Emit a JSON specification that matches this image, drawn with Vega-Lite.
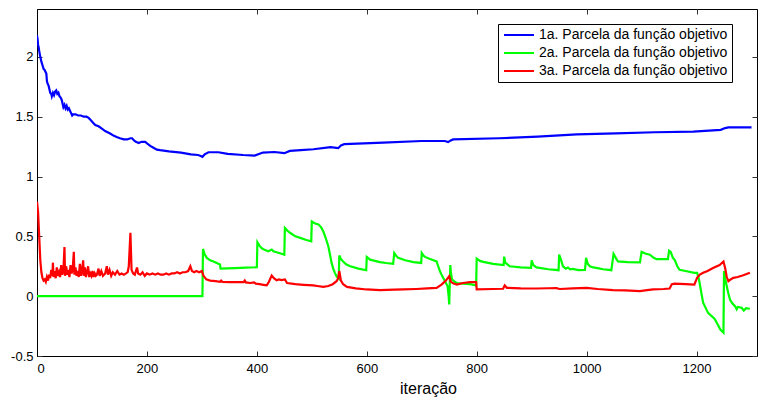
{
  "$schema": "https://vega.github.io/schema/vega-lite/v6.json",
  "autosize": {"type": "none"},
  "padding": {"left": 37, "top": 9, "right": 4, "bottom": 43},
  "width": 720,
  "height": 347,
  "background": "white",
  "config": {
    "view": {"stroke": "black", "strokeWidth": 1},
    "font": "Liberation Sans",
    "axis": {"labelFont": "Liberation Sans", "titleFont": "Liberation Sans", "labelColor": "black", "titleColor": "black", "domainColor": "black", "tickColor": "#333", "grid": false}
  },
  "datasets": {
    "b": [[0,2.18],[1,2.15],[2,2.10],[3,2.08],[4,2.05],[6,2.00],[8,1.96],[10,1.93],[12,1.90],[14,1.89],[16,1.87],[17,1.86],[18,1.80],[19,1.78],[21,1.76],[23,1.72],[24,1.70],[26,1.69],[27,1.67],[29,1.70],[31,1.68],[33,1.71],[35,1.72],[37,1.69],[39,1.70],[41,1.67],[43,1.66],[45,1.64],[47,1.60],[48,1.58],[50,1.60],[52,1.57],[54,1.59],[56,1.56],[58,1.57],[60,1.55],[62,1.53],[64,1.51],[66,1.52],[70,1.52],[75,1.51],[80,1.51],[85,1.50],[90,1.50],[94,1.49],[98,1.47],[102,1.45],[106,1.43],[112,1.42],[118,1.40],[124,1.38],[133,1.36],[140,1.34],[145,1.33],[151,1.32],[158,1.31],[164,1.31],[170,1.32],[173,1.32],[177,1.30],[180,1.29],[185,1.28],[190,1.29],[195,1.29],[197,1.29],[202,1.27],[206,1.256],[212,1.24],[218,1.225],[224,1.22],[240,1.21],[262,1.20],[280,1.185],[293,1.18],[298,1.172],[301,1.165],[305,1.185],[312,1.203],[330,1.203],[347,1.19],[375,1.18],[396,1.175],[405,1.19],[411,1.20],[432,1.205],[450,1.195],[460,1.214],[480,1.22],[503,1.228],[534,1.245],[548,1.237],[553,1.26],[559,1.27],[630,1.283],[700,1.297],[742,1.297],[748,1.288],[752,1.30],[757,1.31],[841,1.32],[911,1.333],[982,1.353],[1053,1.36],[1124,1.37],[1194,1.375],[1244,1.39],[1252,1.405],[1258,1.41],[1300,1.41]],
    "g": [[0,0],[301,0],[302,0.395],[305,0.35],[309,0.32],[315,0.30],[321,0.29],[333,0.264],[334,0.23],[360,0.235],[380,0.238],[400,0.242],[401,0.45],[405,0.42],[409,0.40],[415,0.385],[421,0.375],[425,0.385],[427,0.39],[430,0.375],[436,0.367],[445,0.355],[450,0.347],[451,0.57],[455,0.55],[461,0.528],[470,0.50],[479,0.487],[490,0.47],[499,0.458],[500,0.625],[505,0.61],[512,0.60],[517,0.575],[521,0.54],[525,0.49],[530,0.417],[533,0.35],[536,0.278],[539,0.23],[542,0.195],[545,0.165],[549,0.147],[550,0.34],[553,0.31],[557,0.29],[563,0.265],[570,0.25],[585,0.23],[599,0.217],[600,0.328],[606,0.305],[615,0.295],[624,0.285],[635,0.277],[648,0.27],[650,0.36],[653,0.34],[657,0.32],[670,0.30],[685,0.285],[699,0.278],[700,0.36],[703,0.34],[706,0.328],[715,0.31],[727,0.29],[730,0.25],[733,0.21],[736,0.18],[739,0.153],[743,0.12],[747,0.083],[749,0.0],[750,-0.07],[751,0.10],[752,0.26],[753,0.20],[755,0.14],[760,0.12],[764,0.11],[775,0.105],[788,0.10],[799,0.09],[800,0.314],[806,0.295],[812,0.287],[830,0.27],[849,0.26],[850,0.33],[852,0.28],[860,0.25],[880,0.24],[899,0.236],[900,0.30],[903,0.26],[909,0.24],[930,0.225],[949,0.217],[950,0.347],[953,0.31],[957,0.25],[962,0.23],[966,0.24],[970,0.225],[975,0.228],[985,0.218],[997,0.22],[999,0.32],[1002,0.27],[1006,0.25],[1012,0.24],[1020,0.235],[1030,0.225],[1045,0.217],[1049,0.353],[1053,0.32],[1057,0.29],[1075,0.285],[1097,0.283],[1100,0.37],[1108,0.355],[1115,0.347],[1122,0.32],[1127,0.31],[1148,0.31],[1150,0.38],[1153,0.37],[1157,0.32],[1160,0.305],[1165,0.25],[1169,0.22],[1180,0.21],[1196,0.195],[1201,0.195],[1204,0.15],[1206,0.10],[1209,0.02],[1212,-0.055],[1221,-0.14],[1233,-0.19],[1240,-0.25],[1243,-0.277],[1249,-0.305],[1250,0.21],[1252,0.15],[1255,0.083],[1258,0.02],[1261,-0.03],[1265,-0.06],[1270,-0.083],[1273,-0.11],[1275,-0.09],[1282,-0.097],[1286,-0.12],[1290,-0.10],[1297,-0.105]],
    "r": [[0,0.79],[2,0.70],[4,0.50],[6,0.30],[8,0.20],[10,0.15],[12,0.13],[14,0.14],[16,0.12],[18,0.16],[20,0.13],[22,0.18],[24,0.15],[26,0.22],[28,0.17],[29,0.28],[30,0.16],[32,0.21],[34,0.15],[36,0.24],[38,0.17],[40,0.20],[42,0.16],[44,0.26],[46,0.18],[48,0.21],[50,0.41],[51,0.17],[53,0.25],[55,0.18],[57,0.22],[59,0.16],[61,0.26],[63,0.19],[65,0.23],[67,0.37],[68,0.18],[70,0.24],[72,0.17],[74,0.21],[76,0.16],[78,0.27],[80,0.17],[82,0.22],[84,0.30],[85,0.17],[87,0.24],[89,0.16],[91,0.20],[93,0.25],[95,0.16],[97,0.19],[99,0.17],[101,0.21],[103,0.16],[105,0.19],[107,0.17],[109,0.18],[112,0.23],[114,0.17],[117,0.21],[120,0.17],[124,0.19],[127,0.25],[129,0.18],[132,0.22],[135,0.17],[138,0.20],[142,0.18],[146,0.21],[150,0.18],[154,0.19],[158,0.18],[162,0.19],[165,0.20],[167,0.25],[170,0.53],[172,0.22],[175,0.19],[178,0.18],[182,0.24],[184,0.19],[188,0.18],[192,0.20],[196,0.17],[200,0.19],[205,0.18],[210,0.19],[215,0.18],[220,0.19],[225,0.18],[230,0.18],[235,0.19],[240,0.18],[245,0.19],[250,0.19],[255,0.20],[260,0.19],[265,0.20],[270,0.20],[275,0.21],[279,0.25],[282,0.21],[286,0.20],[290,0.21],[295,0.20],[300,0.21],[303,0.17],[308,0.14],[315,0.13],[325,0.125],[333,0.12],[335,0.13],[337,0.12],[350,0.118],[365,0.118],[376,0.117],[378,0.13],[380,0.115],[388,0.11],[395,0.115],[398,0.105],[405,0.10],[412,0.095],[418,0.09],[422,0.12],[427,0.172],[431,0.15],[436,0.133],[440,0.14],[445,0.135],[451,0.14],[455,0.11],[470,0.10],[485,0.095],[503,0.09],[510,0.085],[521,0.078],[530,0.085],[538,0.10],[545,0.125],[548,0.15],[550,0.21],[553,0.13],[557,0.10],[564,0.078],[580,0.065],[600,0.056],[624,0.05],[650,0.054],[667,0.056],[690,0.06],[710,0.065],[727,0.07],[736,0.097],[744,0.13],[750,0.167],[753,0.12],[758,0.105],[764,0.097],[775,0.11],[788,0.117],[799,0.117],[800,0.056],[830,0.06],[848,0.062],[851,0.09],[855,0.07],[880,0.065],[909,0.064],[930,0.066],[945,0.067],[951,0.06],[975,0.065],[1000,0.07],[1020,0.06],[1048,0.05],[1070,0.048],[1097,0.042],[1110,0.05],[1121,0.056],[1140,0.06],[1151,0.064],[1155,0.10],[1160,0.105],[1180,0.10],[1196,0.097],[1201,0.153],[1206,0.18],[1212,0.195],[1220,0.21],[1230,0.236],[1242,0.26],[1249,0.29],[1252,0.236],[1255,0.16],[1258,0.125],[1262,0.14],[1267,0.153],[1275,0.16],[1285,0.175],[1297,0.195]]
  },
  "resolve": {"axis": {"x": "independent", "y": "independent"}},
  "layer": [
    {
      "data": {"name": "b"},
      "transform": [
        {"calculate": "'1a. Parcela da função objetivo'", "as": "serie"},
        {"calculate": "datum[0]", "as": "iter"},
        {"calculate": "datum[1]", "as": "val"}
      ],
      "mark": {"type": "line", "strokeWidth": 2.2, "clip": true},
      "encoding": {
        "x": {"field": "iter", "type": "quantitative", "scale": {"domain": [0, 1310], "nice": false, "zero": false},
          "axis": {"values": [0,200,400,600,800,1000,1200], "tickSize": -5, "labelPadding": 11, "labelFontSize": 13, "labelExpr": "'' + datum.value", "title": "iteração", "titleFontSize": 16, "titleFontWeight": "normal", "titleX": 391, "titleY": 37, "titleBaseline": "alphabetic", "titleAnchor": null, "titleAlign": "center"}},
        "y": {"field": "val", "type": "quantitative", "scale": {"domain": [-0.5, 2.4], "nice": false, "zero": false},
          "axis": {"values": [-0.5,0,0.5,1,1.5,2], "tickSize": -5, "labelPadding": 9, "labelFontSize": 13, "labelExpr": "'' + datum.value", "title": null}},
        "color": {"field": "serie", "type": "nominal",
          "scale": {"domain": ["1a. Parcela da função objetivo", "2a. Parcela da função objetivo", "3a. Parcela da função objetivo"], "range": ["#0000ff", "#00ff00", "#ff0000"]},
          "legend": {"title": null, "orient": "none", "legendX": 461, "legendY": 15, "symbolType": "M-1,0H5", "symbolSize": 100, "symbolStrokeWidth": 2, "labelFontSize": 14, "labelFont": "Liberation Sans", "labelColor": "black", "labelOffset": 23, "labelLimit": 0, "strokeColor": "black", "fillColor": "white", "padding": 4, "rowPadding": 4, "cornerRadius": 0}}
      }
    },
    {
      "data": {"name": "g"},
      "transform": [
        {"calculate": "'2a. Parcela da função objetivo'", "as": "serie"},
        {"calculate": "datum[0]", "as": "iter"},
        {"calculate": "datum[1]", "as": "val"}
      ],
      "mark": {"type": "line", "strokeWidth": 2.2, "clip": true},
      "encoding": {
        "x": {"field": "iter", "type": "quantitative", "axis": null},
        "y": {"field": "val", "type": "quantitative", "axis": null},
        "color": {"field": "serie", "type": "nominal"}
      }
    },
    {
      "data": {"name": "r"},
      "transform": [
        {"calculate": "'3a. Parcela da função objetivo'", "as": "serie"},
        {"calculate": "datum[0]", "as": "iter"},
        {"calculate": "datum[1]", "as": "val"}
      ],
      "mark": {"type": "line", "strokeWidth": 2.2, "clip": true},
      "encoding": {
        "x": {"field": "iter", "type": "quantitative", "axis": {"orient": "top", "values": [0,200,400,600,800,1000,1200], "tickSize": -5, "labels": false, "domain": false, "title": null}},
        "y": {"field": "val", "type": "quantitative", "axis": {"orient": "right", "values": [-0.5,0,0.5,1,1.5,2], "tickSize": -5, "labels": false, "domain": false, "title": null}},
        "color": {"field": "serie", "type": "nominal"}
      }
    }
  ]
}
